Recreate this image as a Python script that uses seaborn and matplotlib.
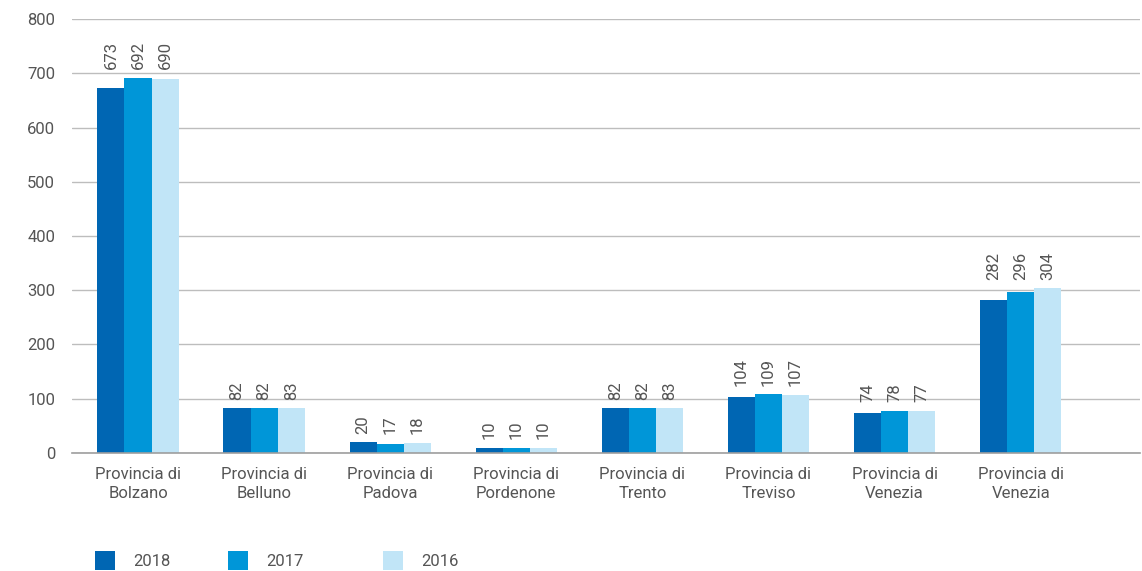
import matplotlib
matplotlib.use("Agg")
import matplotlib.pyplot as plt
import seaborn as sns
import pandas as pd
from matplotlib.patches import Patch

categories = ["Provincia di\nBolzano", "Provincia di\nBelluno", "Provincia di\nPadova",
              "Provincia di\nPordenone", "Provincia di\nTrento", "Provincia di\nTreviso",
              "Provincia di\nVenezia", "Provincia di\nVenezia"]
years = ["2018", "2017", "2016"]
v2018 = [673, 82, 20, 10, 82, 104, 74, 282]
v2017 = [692, 82, 17, 10, 82, 109, 78, 296]
v2016 = [690, 83, 18, 10, 83, 107, 77, 304]
colors = ["#0066B3", "#0096D8", "#C1E5F7"]
yticks = [0, 100, 200, 300, 400, 500, 600, 700, 800]

rows = []
for i in range(len(categories)):
    for y, vals in zip(years, [v2018, v2017, v2016]):
        rows.append({"cat": i, "year": y, "value": vals[i]})
df = pd.DataFrame(rows)

sns.set_theme(style="white")
plt.rcParams["font.family"] = ["Roboto", "DejaVu Sans"]

fig = plt.figure(figsize=(11.42, 5.71), dpi=100)
ax = fig.add_axes([0.063, 0.2067, 0.935, 0.76])

sns.barplot(data=df, x="cat", y="value", hue="year", hue_order=years,
            palette=colors, width=0.645, saturation=1, ax=ax, legend=False,
            order=list(range(len(categories))), linewidth=0, edgecolor="none")

ax.set_ylim(0, 800)
ax.set_xlim(-0.524, 7.944)
ax.set_yticks(yticks)
ax.set_yticklabels([str(t) for t in yticks])
ax.set_xticks(range(len(categories)))
ax.set_xticklabels(categories, linespacing=1.35)
ax.yaxis.grid(True, color="#BDBDBD", linewidth=1)
ax.set_axisbelow(True)
for s in ["left", "right", "top"]:
    ax.spines[s].set_visible(False)
ax.spines["bottom"].set_color("#9E9E9E")
ax.spines["bottom"].set_linewidth(1.2)
ax.tick_params(axis="both", length=0, colors="#555555", labelsize=12)
ax.tick_params(axis="y", pad=12)
ax.tick_params(axis="x", pad=10)
ax.set_xlabel("")
ax.set_ylabel("")

# data labels aligned at the group maximum
for j, cont in enumerate(ax.containers):
    vals = [v2018, v2017, v2016][j]
    for i, bar in enumerate(cont):
        gmax = max(v2018[i], v2017[i], v2016[i])
        ax.annotate(str(vals[i]), xy=(bar.get_x() + bar.get_width() / 2, gmax),
                    xytext=(0, 6), textcoords="offset points",
                    rotation=90, ha="center", va="bottom",
                    fontsize=12, color="#555555")

legend_x = [0.0832, 0.1997, 0.3354]
for c, lab, lx in zip(colors, years, legend_x):
    leg = fig.legend([Patch(facecolor=c, edgecolor="none")], [lab],
                     loc="center left", bbox_to_anchor=(lx, 0.019),
                     frameon=False, fontsize=12, labelcolor="#555555",
                     handlelength=1.2, handleheight=1.4, handletextpad=1.1,
                     borderpad=0, borderaxespad=0)

fig.savefig("out.png", dpi=100)
